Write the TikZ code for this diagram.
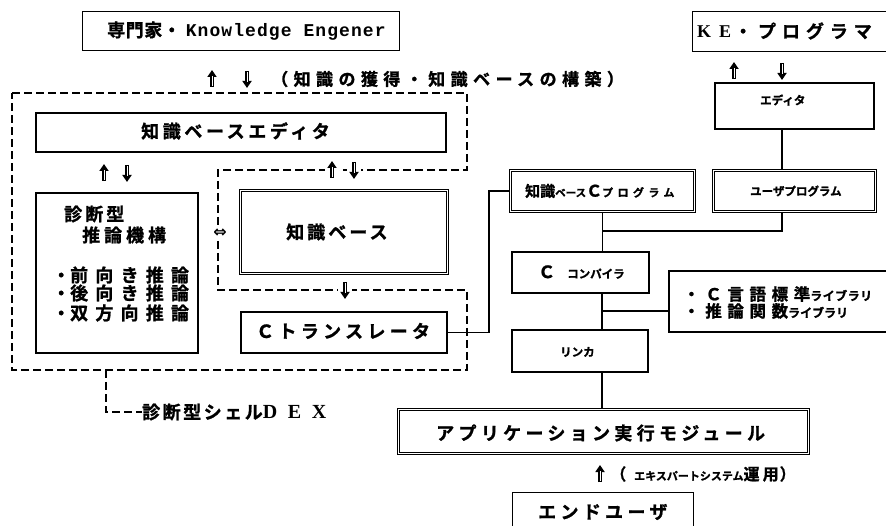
\documentclass[tikz,border=0pt]{standalone}
\usetikzlibrary{arrows.meta}
\usepackage{fontspec}
\setmainfont{Liberation Serif}
\newfontfamily\jp{Noto Sans CJK JP}[UprightFont=* Bold, FakeBold=1.2]
\newfontfamily\mono{Liberation Mono}[UprightFont=* Bold]
\newfontfamily\serifb{Liberation Serif}[UprightFont=* Bold]
\newfontfamily\sym{DejaVu Sans}[UprightFont=* Bold]
\newcommand\J[3]{{\fontsize{#1}{#1}\selectfont\jp\addfontfeature{LetterSpace=#2}#3}}
\newcommand\M[3]{{\fontsize{#1}{#1}\selectfont\mono\addfontfeature{LetterSpace=#2}#3}}
\newcommand\SB[3]{{\fontsize{#1}{#1}\selectfont\serifb\addfontfeature{LetterSpace=#2}#3}}
\newcommand\Y[2]{{\fontsize{#1}{#1}\selectfont\sym #2}}
\tikzset{
  bxa/.style={draw, line width=1pt, inner sep=0pt, anchor=north west},
  bxb/.style={draw, line width=1.8pt, inner sep=0pt, anchor=north west},
  bxd/.style={draw, line width=0.9pt, double, double distance=1.6pt, inner sep=0pt, anchor=north west},
  lbl/.style={inner sep=0pt, anchor=west},
  arrw/.style={inner sep=1.5pt, fill=white},
  ln/.style={line width=1.2pt},
  dsh/.style={line width=1.3pt, dash pattern=on 8pt off 4pt},
  uparr/.pic={
    \draw[line width=3.4pt, -{Triangle[width=9pt,length=7pt]}] (0,8) -- (0,-9);
    \draw[white, line width=0.7pt] (0,7) -- (0,-3);
  },
  dnarr/.pic={
    \draw[line width=3.4pt, -{Triangle[width=9pt,length=7pt]}] (0,-8) -- (0,9);
    \draw[white, line width=0.7pt] (0,-7) -- (0,3);
  },
  wbg/.pic={\fill[white] (-7,-11) rectangle (7,11);},
}
\begin{document}
\begin{tikzpicture}[x=1pt, y=-1pt]
\useasboundingbox (0,0) rectangle (886,526);
% boxes
\node[bxa, minimum width=317pt, minimum height=39pt] (exp) at (82,11) {};
\node[bxa, minimum width=208pt, minimum height=40pt] (ke) at (692,11) {};
\node[bxb, minimum width=159pt, minimum height=46pt] (ed) at (714,82) {};
\node[bxb, minimum width=410pt, minimum height=39pt] (kbe) at (35,112) {};
\node[bxb, minimum width=162pt, minimum height=160pt] (inf) at (35,192) {};
\node[bxd, minimum width=207pt, minimum height=83pt] (kb) at (240,190) {};
\node[bxb, minimum width=206pt, minimum height=41pt] (ct) at (240,311) {};
\node[bxd, minimum width=184pt, minimum height=41pt] (kbc) at (510,170) {};
\node[bxd, minimum width=162pt, minimum height=41pt] (up) at (713,170) {};
\node[bxb, minimum width=137pt, minimum height=41pt] (cc) at (511,251) {};
\node[bxb, minimum width=232pt, minimum height=61pt] (lib) at (668,270) {};
\node[bxb, minimum width=136pt, minimum height=42pt] (lk) at (511,329) {};
\node[bxd, minimum width=410pt, minimum height=44pt] (app) at (398,409) {};
\node[bxb, minimum width=181pt, minimum height=48pt, line width=1.3pt] (eu) at (512,492) {};
% dashed shell outline
\draw[dsh] (12,93) -- (467,93) -- (467,170) -- (218,170) -- (218,290) -- (467,290) -- (467,370) -- (12,370) -- cycle;
% arrow symbols
\pic at (212,79) {uparr};
\pic at (247,79) {dnarr};
\pic at (734,71) {uparr};
\pic at (782,71) {dnarr};
\pic at (104,173) {uparr};
\pic at (127,173) {dnarr};
\pic at (332,170) {wbg};
\pic at (354,170) {wbg};
\pic at (332,170) {uparr};
\pic at (354,170) {dnarr};
\pic at (345,290) {wbg};
\pic at (345,290) {dnarr};
\pic at (600,474) {uparr};
\node[arrw] (a6) at (220,233) {\Y{16}{⇔}};
% labels
\node[lbl] (texp) at (107,31) {\J{18}{3}{専門家・}\hspace{5pt}\M{18}{6}{Knowledge Engener}};
\node[lbl] (tke) at (697,31) {\SB{18}{44}{KE}\hspace{3pt}\J{18}{33}{・プログラマ}};
\node[lbl] (tkk) at (271,79) {\J{17}{32}{（知識の獲得・知識ベースの構築）}};
\node[lbl] (ted) at (760,100) {\J{11.5}{0}{エディタ}};
\node[lbl] (tkbe) at (141,131) {\J{18}{20}{知識ベースエディタ}};
\node[lbl] (ti1) at (64,214) {\J{18}{17}{診断型}};
\node[lbl] (ti2) at (82,235) {\J{18}{22}{推論機構}};
\node[lbl] (ti3) at (52,275) {\J{18}{0}{・}\J{18}{40}{前向き推論}};
\node[lbl] (ti4) at (52,293) {\J{18}{0}{・}\J{18}{40}{後向き推論}};
\node[lbl] (ti5) at (52,313) {\J{18}{0}{・}\J{18}{40}{双方向推論}};
\node[lbl] (tkb) at (286,232) {\J{18}{17}{知識ベース}};
\node[lbl] (tct) at (256,331) {\J{18}{24}{Ｃトランスレータ}};
\node[lbl] (dex) at (142,412) {\J{18}{14}{診断型シェル}\SB{20}{53}{DEX}};
\node[lbl] (tkbc) at (525,191) {\J{15}{0}{知識}\J{10.5}{0}{ベース}\J{16}{0}{Ｃ}\J{11}{40}{プログラム}};
\node[lbl] (tup) at (750,191) {\J{11.5}{0}{ユーザプログラム}};
\node[lbl] (tcc) at (538,272) {\J{17}{0}{Ｃ}\hspace{12pt}\J{11.5}{0}{コンパイラ}};
\node[lbl] (tl1) at (683,294) {\J{16.5}{34}{・Ｃ言語標準}\J{12}{4}{ライブラリ}};
\node[lbl] (tl2) at (683,311) {\J{16.5}{34}{・推論関数}\J{12}{0}{ライブラリ}};
\node[lbl] (tlk) at (560,352) {\J{11.5}{0}{リンカ}};
\node[lbl] (tapp) at (436,433) {\J{18}{24}{アプリケーション実行モジュール}};
\node[lbl] (top) at (610,474) {\J{16}{0}{（}\hspace{8pt}\J{11}{0}{エキスパートシステム}\J{16}{20}{運用}\hspace{1pt}\J{16}{0}{）}};
\node[lbl] (teu) at (538,512) {\J{18}{24}{エンドユーザ}};
% connectors
\coordinate (jx) at (489,0);
\coordinate (ux) at (782,0);
\coordinate (m1) at (602,231);
\coordinate (m2) at (602,311);
\draw[ln] (ct.east) -- (ct.east -| jx) |- (kbc.west);
\draw[ln] (ed.south -| ux) -- (up.north -| ux);
\draw[ln] (kbc.south) -- (kbc.south |- cc.north);
\draw[ln] (up.south -| ux) |- (m1);
\draw[ln] (cc.south -| m1) -- (lk.north -| m1);
\draw[ln] (m2) -- (m2 -| lib.west);
\draw[ln] (lk.south -| m1) -- (app.north -| m1);
\draw[dsh] (106,370) |- (dex.west);
\end{tikzpicture}
\end{document}
